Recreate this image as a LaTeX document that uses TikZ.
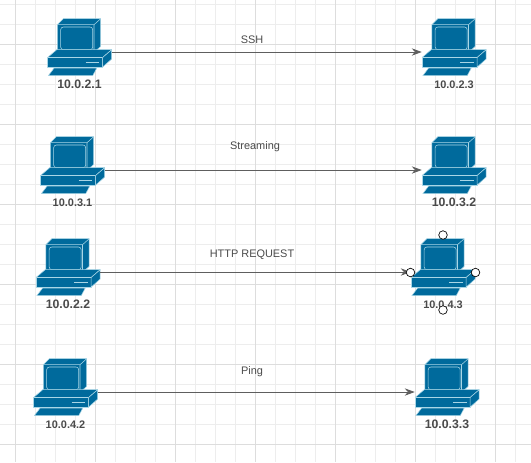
\documentclass[tikz,border=0pt]{standalone}
\usepackage{fontspec}
\setmainfont{Liberation Sans}
\usetikzlibrary{positioning,arrows.meta}
\definecolor{pcblue}{HTML}{006A9C}
\definecolor{pcedge}{HTML}{A9D6E6}
\definecolor{gridthin}{HTML}{EDEDED}
\definecolor{gridthick}{HTML}{DDDDDD}
\definecolor{inkgray}{HTML}{4A4A4A}
\definecolor{linkgray}{HTML}{5E5E5E}
\tikzset{
  pcpart/.style={fill=pcblue, draw=pcedge, line width=0.4pt, line join=round},
  pics/computer/.style={code={
    \draw[pcpart] (-22.2,-27.3) -- (-16.2,-33.3) -- (21.2,-33.3) -- (21.2,-5.6) -- (14.5,0.4) -- (-22.2,0.4) -- cycle;
    \draw[draw=pcedge, line width=0.4pt] (-22.2,-27.3) -- (14.5,-27.3) -- (21.2,-33.3) (14.5,-27.3) -- (14.5,0.4);
    \draw[draw=pcedge, line width=0.4pt, rounded corners=2pt] (-18.8,-25) rectangle (13.2,-2.3);
    \draw[pcpart] (-31.8,5.4) -- (-22.8,-2.3) -- (32.2,-2.3) -- (23.2,5.4) -- cycle;
    \draw[pcpart] (-31.8,5.4) rectangle (23.2,15);
    \draw[pcpart] (23.2,5.4) -- (32.2,-2.3) -- (32.2,7) -- (23.2,15) -- cycle;
    \draw[draw=pcedge, line width=0.8pt] (6.2,10.4) -- (19.8,10.4);
    \draw[pcpart] (-25.5,16.2) -- (17.2,16.2) -- (13.2,23.7) -- (-31.2,23.7) -- cycle;
  }},
  pcbox/.style={minimum width=48pt, minimum height=36pt, inner sep=0pt},
  iplabel/.style={font=\bfseries\fontsize{9.2}{11}\selectfont, text=inkgray, inner sep=2.8pt},
  smallip/.style={font=\bfseries\fontsize{8.2}{10}\selectfont, text=inkgray, inner sep=3pt},
  linklabel/.style={font=\fontsize{8.2}{10}\selectfont, text=inkgray},
  link/.style={draw=linkgray, line width=0.6pt, -{Stealth[length=7.5pt,width=5.5pt]}},
  handle/.style={circle, draw=black, fill=white, line width=0.5pt, minimum size=6.4pt, inner sep=0pt},
}
\begin{document}
\begin{tikzpicture}[x=0.75pt, y=-0.75pt]
\useasboundingbox (0,0) rectangle (531,462);
\foreach \x in {15,35,...,515} \draw[gridthin, line width=0.75pt] (\x,0) -- (\x,462);
\foreach \y in {4,24,...,444} \draw[gridthin, line width=0.75pt] (0,\y) -- (531,\y);
\foreach \x in {15,95,...,495} \draw[gridthick, line width=0.75pt] (\x,0) -- (\x,462);
\foreach \y in {44,124,...,444} \draw[gridthick, line width=0.75pt] (0,\y) -- (531,\y);
% left column
\node[pcbox] (hostA) at (79.5,52) {};
\node[pcbox] (hostC) at (72.5,170) {};
\node[pcbox] (hostE) at (68,272) {};
\node[pcbox] (hostG) at (65.5,392) {};
% right column
\node[pcbox] (hostB) at (454,52) {};
\node[pcbox] (hostD) at (454,170) {};
\node[pcbox] (hostF) at (443,272) {};
\node[pcbox] (hostH) at (447,392) {};
\foreach \h in {hostA,hostB,hostC,hostD,hostE,hostF,hostG,hostH} \pic at (\h) {computer};
\node[iplabel, below=0pt of hostA] (ipA) {10.0.2.1};
\node[smallip, below=0pt of hostB] (ipB) {10.0.2.3};
\node[smallip, below=0pt of hostC] (ipC) {10.0.3.1};
\node[iplabel, below=0pt of hostD] (ipD) {10.0.3.2};
\node[iplabel, below=0pt of hostE] (ipE) {10.0.2.2};
\node[smallip, below=0pt of hostF] (ipF) {10.0.4.3};
\node[smallip, below=0pt of hostG] (ipG) {10.0.4.2};
\node[iplabel, below=0pt of hostH] (ipH) {10.0.3.3};
\draw[link] (hostA) -- (hostB);
\draw[link] (hostC) -- (hostD);
\draw[link] (hostE) -- (hostF);
\draw[link] (hostG) -- (hostH);
\node[linklabel] (ssh) at (252,40) {SSH};
\node[linklabel] (streaming) at (255,147) {Streaming};
\node[linklabel] (http) at (252,255) {HTTP REQUEST};
\node[linklabel] (ping) at (252,372) {Ping};
% selection handles
\node[handle] (handleN) at (443,235) {};
\node[handle] (handleS) at (443,310) {};
\node[handle] (handleW) at (410.5,272.5) {};
\node[handle] (handleE) at (475.5,272.5) {};
\end{tikzpicture}
\end{document}
